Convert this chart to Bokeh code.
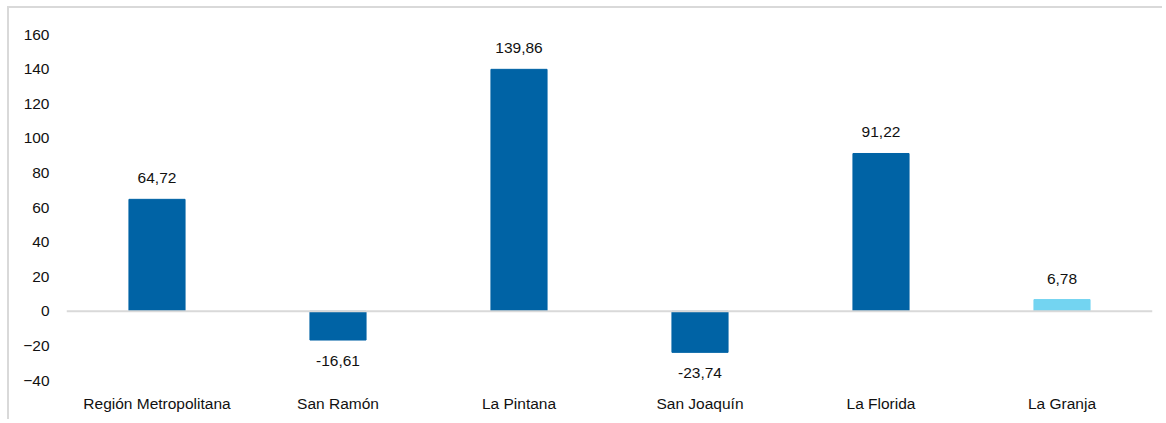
from bokeh.plotting import figure
from bokeh.models import ColumnDataSource, LabelSet, Span, FixedTicker, Range1d
from bokeh.core.properties import value
from bokeh.embed import file_html
from bokeh.resources import INLINE

categories = ["Región Metropolitana", "San Ramón", "La Pintana", "San Joaquín", "La Florida", "La Granja"]
values = [64.72, -16.61, 139.86, -23.74, 91.22, 6.78]
bar_colors = ["#0063A5", "#0063A5", "#0063A5", "#0063A5", "#0063A5", "#73D4F1"]
y_ticks = [-40, -20, 0, 20, 40, 60, 80, 100, 120, 140, 160]

labels = [f"{v:.2f}".replace(".", ",") for v in values]
offsets = [21 if v >= 0 else -21 for v in values]
bottoms = [0] * len(values)

src = ColumnDataSource(dict(cat=categories, val=values, col=bar_colors,
                            lab=labels, off=offsets, bot=bottoms))

FONT = "Liberation Sans"
FS = "15.5px"
TXT = "#111111"

p = figure(x_range=categories, y_range=Range1d(-40, 160),
           width=1155, height=413, output_backend="svg", toolbar_location=None,
           min_border_left=57, min_border_right=12, min_border_top=26, min_border_bottom=41)
p.styles = {"border-left": "2px solid #d9d9d9", "border-top": "2px solid #d9d9d9",
            "margin-left": "7px", "margin-top": "6px"}

p.vbar(x="cat", top="val", bottom="bot", width=0.31, color="col", source=src)

p.add_layout(Span(location=0, dimension="width", line_color="#d9d9d9", line_width=2))

p.add_layout(LabelSet(x="cat", y="val", text="lab", y_offset="off", source=src,
                      text_align="center", text_baseline="middle",
                      text_font=value(FONT), text_font_size=FS, text_color=TXT))

p.xgrid.visible = False
p.ygrid.visible = False
p.outline_line_color = None

p.yaxis.ticker = FixedTicker(ticks=y_ticks)
p.yaxis.axis_line_color = None
p.yaxis.major_tick_line_color = None
p.yaxis.minor_tick_line_color = None
p.yaxis.major_tick_out = 0
p.yaxis.major_label_standoff = 17
p.yaxis.major_label_text_font = FONT
p.yaxis.major_label_text_font_size = FS
p.yaxis.major_label_text_color = TXT

p.xaxis.axis_line_color = None
p.xaxis.major_tick_line_color = None
p.xaxis.major_tick_out = 0
p.xaxis.major_label_standoff = 14
p.xaxis.major_label_text_font = FONT
p.xaxis.major_label_text_font_size = FS
p.xaxis.major_label_text_color = TXT

open("out.html", "w").write(file_html(p, INLINE))
